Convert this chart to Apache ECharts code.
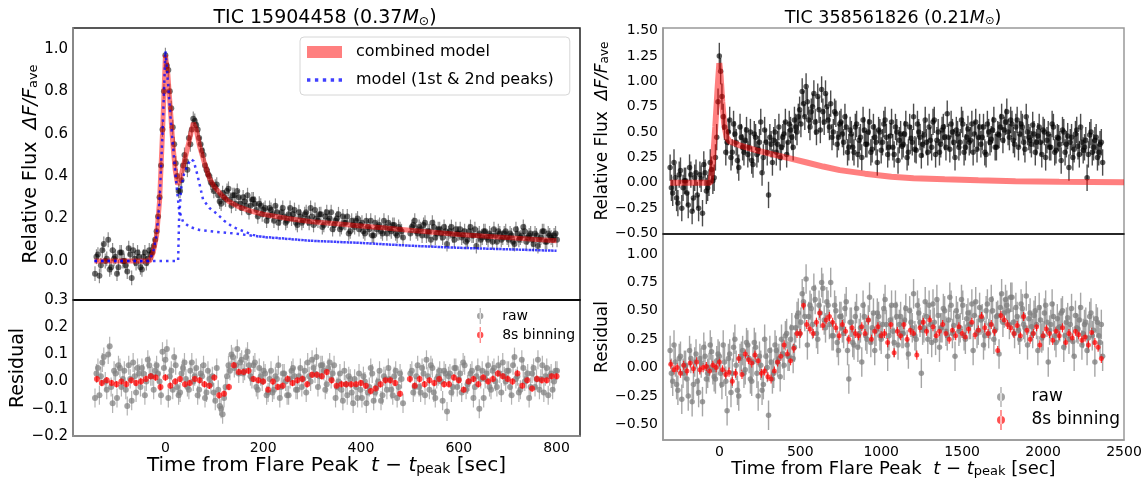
<!DOCTYPE html>
<html>
<head>
<meta charset="utf-8">
<script src="https://cdn.jsdelivr.net/npm/echarts@6/dist/echarts.min.js"></script>
<style>
  html, body { margin: 0; padding: 0; background: #fff; }
  #chart { width: 1146px; height: 481px; }
</style>
</head>
<body>
<div id="chart"></div>
<script>
/* flare light curves: two TESS stars, model + residual panels */

const FONT = 'DejaVu Sans';

// ---- TIC 15904458 (left) ----
// raw samples, two interleaved runs 3 s apart (null = gap)
const leftT0 = -144, leftT0b = -141, leftDt = 6;
const leftFlux = [
  -0.06, 0.03, -0.02, 0.08, 0.01, -0.04, 0.05, 0.02, -0.03, 0.04,
  0.00, -0.05, 0.03, 0.05, -0.01, 0.02, -0.04, 0.04, 0.01, 0.03,
  0.07, 0.14, 0.30, 0.62, 0.97, 0.90, 0.72, 0.55, 0.40, 0.33,
  0.45, 0.47, 0.58, 0.62, 0.66, 0.62, 0.55, 0.50, 0.43, 0.40,
  0.36, 0.35, 0.31, 0.27, 0.30, 0.33, 0.29, 0.31, 0.27, 0.30,
  0.25, 0.28, 0.31, 0.26, 0.29, 0.24, 0.27, 0.22, 0.25, 0.21,
  0.24, 0.19, 0.23, 0.20, 0.25, 0.18, 0.22, 0.20, 0.24, 0.17,
  0.21, 0.19, 0.23, 0.18, 0.21, 0.24, 0.19, 0.22, 0.17, 0.23,
  0.20, 0.15, 0.19, 0.22, 0.16, 0.18, 0.21, 0.14, 0.17, 0.19,
  0.15, 0.18, 0.13, 0.16, 0.19, 0.12, 0.15, 0.17, 0.13, 0.16,
  0.18, 0.14, 0.17, 0.12, 0.15, 0.11, null, null, 0.16, 0.19,
  0.13, 0.15, 0.17, 0.12, 0.14, 0.18, 0.11, 0.15, 0.13, 0.16,
  0.08, 0.14, 0.12, 0.15, 0.13, 0.11, 0.14, 0.10, 0.16, 0.12,
  0.07, 0.13, 0.11, 0.14, 0.10, 0.12, 0.15, 0.09, 0.13, 0.11,
  0.14, 0.10, 0.12, 0.08, 0.13, 0.11, 0.16, 0.09, 0.12, 0.10,
  0.13, 0.07, 0.11, 0.14, 0.09, 0.12, 0.10, 0.13
];
const leftFluxB = [
  0.02, -0.07, 0.05, 0.00, 0.10, -0.03, 0.01, -0.06, 0.04, 0.00,
  -0.02, 0.06, -0.08, 0.01, 0.04, -0.03, 0.02, -0.01, 0.05, 0.04,
  0.10, 0.21, 0.45, 0.80, 0.92, 0.80, 0.63, 0.46, 0.33, 0.38,
  0.50, 0.43, 0.55, 0.67, 0.64, 0.58, 0.52, 0.45, 0.41, 0.37,
  0.33, 0.36, 0.28, 0.32, 0.29, 0.34, 0.26, 0.31, 0.33, 0.27,
  0.30, 0.26, 0.23, 0.29, 0.27, 0.21, 0.26, 0.24, 0.19, 0.25,
  0.22, 0.26, 0.18, 0.23, 0.21, 0.19, 0.25, 0.22, 0.18, 0.23,
  0.18, 0.22, 0.20, 0.25, 0.17, 0.20, 0.22, 0.16, 0.21, 0.19,
  0.23, 0.17, 0.20, 0.15, 0.21, 0.18, 0.13, 0.19, 0.16, 0.20,
  0.17, 0.14, 0.19, 0.15, 0.12, 0.18, 0.16, 0.14, 0.19, 0.13,
  0.15, 0.17, 0.13, 0.16, 0.14, null, null, 0.13, 0.17, 0.14,
  0.16, 0.12, 0.18, 0.14, 0.10, 0.16, 0.13, 0.15, 0.11, 0.14,
  0.13, 0.16, 0.10, 0.13, 0.15, 0.12, 0.09, 0.14, 0.12, 0.15,
  0.12, 0.10, 0.14, 0.11, 0.13, 0.09, 0.12, 0.14, 0.10, 0.13,
  0.11, 0.13, 0.09, 0.15, 0.10, 0.12, 0.14, 0.11, 0.13, 0.08,
  0.12, 0.10, 0.14, 0.09, 0.13, 0.11, 0.12, 0.10
];
const leftResid = [
  -0.06, 0.05, 0.02, 0.09, -0.03, 0.13, -0.08, 0.03, 0.06, -0.02,
  0.04, -0.09, 0.01, 0.07, -0.04, 0.03, 0.05, -0.05, 0.08, 0.02,
  -0.03, 0.06, 0.00, 0.11, 0.08, -0.06, 0.04, 0.09, -0.02, -0.04,
  0.05, 0.01, -0.03, 0.07, 0.02, -0.05, 0.03, 0.06, -0.04, 0.01,
  0.02, -0.07, -0.03, -0.10, -0.06, 0.02, 0.04, 0.09, 0.06, 0.03,
  0.08, 0.04, 0.11, 0.02, 0.06, -0.02, 0.05, 0.00, 0.03, -0.04,
  0.04, -0.03, 0.01, -0.06, 0.03, 0.00, -0.05, 0.04, 0.02, -0.03,
  0.05, 0.01, -0.04, 0.02, 0.08, 0.03, -0.02, 0.06, 0.04, -0.01,
  0.07, 0.03, -0.06, 0.00, -0.03, 0.04, -0.05, 0.01, -0.08, -0.02,
  0.03, -0.06, 0.00, -0.04, 0.05, -0.07, -0.02, 0.04, -0.05, 0.01,
  0.05, -0.03, 0.02, -0.06, 0.03, -0.08, null, null, 0.04, -0.02,
  0.06, -0.04, 0.03, 0.08, -0.03, 0.05, -0.06, 0.02, 0.00, 0.04,
  -0.11, 0.03, -0.02, 0.05, 0.01, -0.04, 0.06, -0.01, 0.03, -0.06,
  0.02, -0.10, 0.04, 0.01, 0.06, -0.03, 0.05, -0.02, 0.03, 0.07,
  0.00, 0.04, -0.05, 0.09, 0.02, -0.03, 0.05, 0.01, -0.06, 0.03,
  -0.02, 0.08, 0.01, -0.04, 0.05, 0.02, -0.03, 0.04
];
const leftResidB = [
  0.03, -0.05, 0.07, 0.00, 0.10, -0.02, 0.04, -0.06, 0.05, 0.01,
  -0.03, 0.06, -0.07, 0.02, 0.05, -0.02, 0.03, 0.00, 0.06, 0.02,
  0.04, 0.03, -0.05, 0.05, 0.12, 0.02, -0.03, 0.06, -0.05, 0.03,
  0.07, -0.02, 0.04, 0.00, 0.05, -0.03, 0.02, -0.06, 0.04, -0.01,
  -0.04, 0.05, -0.09, -0.12, -0.02, 0.06, 0.10, 0.05, 0.12, 0.07,
  0.03, 0.09, 0.06, 0.01, 0.07, -0.03, 0.02, 0.04, -0.05, 0.01,
  -0.04, 0.02, 0.06, -0.02, 0.03, -0.05, 0.01, 0.05, -0.03, 0.02,
  -0.02, 0.04, 0.07, 0.00, 0.05, 0.09, 0.02, 0.06, -0.03, 0.05,
  0.01, 0.06, -0.02, 0.03, -0.07, -0.01, 0.02, -0.04, 0.01, -0.06,
  -0.03, 0.02, -0.08, -0.02, 0.03, -0.04, 0.00, -0.07, 0.02, -0.03,
  0.01, -0.05, 0.04, -0.02, 0.01, null, null, 0.03, -0.04, 0.02,
  -0.02, 0.05, -0.05, 0.02, 0.06, -0.04, 0.01, 0.04, -0.07, 0.03,
  0.02, -0.04, 0.05, -0.02, 0.03, 0.07, -0.03, 0.00, 0.04, -0.02,
  0.05, 0.01, -0.06, 0.03, -0.02, 0.04, 0.00, 0.06, -0.04, 0.02,
  0.04, -0.02, 0.06, 0.01, -0.04, 0.08, 0.00, 0.03, -0.02, 0.05,
  0.01, -0.03, 0.06, 0.02, -0.05, 0.03, 0.00, 0.04
];
// 8 s binned residual, one bin every 10 s from t = -140 s
const leftBinT0 = -140, leftBinDt = 10;
const leftBinResid = [
  0.01, -0.005, 0.005, -0.005, -0.01, 0.0, -0.01, 0.005, -0.005, 0.0,
  0.01, 0.02, 0.015, -0.02, 0.015, -0.015, 0.0, 0.01, -0.01, -0.005,
  0.01, 0.005, -0.01, -0.015, 0.015, -0.05, -0.045, -0.02, 0.06, 0.035,
  0.035, 0.04, 0.01, 0.005, 0.0, -0.03, 0.0, -0.02, -0.015, 0.01,
  -0.005, 0.005, 0.01, -0.01, 0.025, 0.025, 0.02, 0.035, 0.005, -0.015,
  -0.01, -0.01, -0.01, -0.01, -0.005, -0.015, -0.035, -0.025, -0.01, 0.005,
  0.005, -0.005, -0.045, null, 0.01, -0.015, 0.01, -0.01, 0.005, -0.005,
  0.01, -0.01, -0.01, 0.015, 0.005, -0.03, 0.0, 0.01, -0.01, 0.015,
  0.0, 0.01, 0.03, 0.02, 0.01, 0.0, 0.03, -0.015, 0.005, -0.025,
  0.01, 0.005, 0.005, 0.02, 0.02
];
// fitted models
const leftModelT = [-145, -32, -25, -18, -12, -6, 0, 5, 10, 15, 20, 25, 30, 38, 45, 52, 57, 63, 70, 80, 90, 100, 115, 130, 150, 175, 200, 250, 300, 350, 400, 450, 500, 600, 700, 800];
const leftModelF = [0, 0, 0.04, 0.12, 0.28, 0.60, 0.97, 0.88, 0.72, 0.56, 0.43, 0.36, 0.38, 0.46, 0.53, 0.60, 0.65, 0.62, 0.54, 0.46, 0.39, 0.35, 0.31, 0.28, 0.255, 0.235, 0.22, 0.20, 0.185, 0.175, 0.165, 0.155, 0.145, 0.125, 0.11, 0.095];
const leftPeak1T = [-145, -34, -25, -18, -12, -6, 0, 6, 11, 17, 23, 28, 36, 50, 70, 100, 138, 193, 300, 400, 500, 600, 700, 800];
const leftPeak1F = [0, 0, 0.04, 0.12, 0.28, 0.60, 0.99, 0.82, 0.66, 0.50, 0.35, 0.24, 0.185, 0.16, 0.146, 0.138, 0.13, 0.115, 0.095, 0.085, 0.072, 0.062, 0.055, 0.048];
const leftPeak2T = [-145, 26, 28, 32, 38, 45, 52, 58, 65, 77, 90, 104, 120, 138, 160, 179, 200, 300, 400, 500, 600, 700, 800];
const leftPeak2F = [0, 0, 0.2, 0.34, 0.41, 0.45, 0.48, 0.47, 0.41, 0.29, 0.25, 0.225, 0.19, 0.16, 0.14, 0.123, 0.112, 0.095, 0.085, 0.072, 0.062, 0.055, 0.048];

// ---- TIC 358561826 (right) ----
const rightT0 = -304, rightT0b = -296, rightDt = 16;
const rightFlux = [
  0.15, -0.10, 0.05, -0.20, 0.12, -0.05, 0.02, -0.22, 0.08, -0.15,
  0.10, -0.25, 0.04, 0.18, -0.08, 0.00, 0.13, 0.05, 0.45, 1.25,
  0.85, 0.55, 0.40, 0.62, 0.30, 0.48, 0.22, 0.55, 0.35, 0.42,
  0.28, 0.50, 0.18, 0.45, 0.33, 0.60, 0.25, 0.40, -0.12, 0.38,
  0.42, 0.30, 0.55, 0.35, 0.48, 0.28, 0.58, 0.45, 0.62, 0.50,
  0.72, 0.90, 0.65, 0.80, 0.55, 0.75, 0.60, 0.85, 0.52, 0.70,
  0.88, 0.62, 0.78, 0.50, 0.68, 0.45, 0.60, 0.40, 0.55, 0.35,
  0.48, 0.30, 0.58, 0.42, 0.25, 0.52, 0.38, 0.60, 0.33, 0.45,
  0.20, 0.50, 0.40, 0.62, 0.28, 0.46, 0.35, 0.55, 0.22, 0.48,
  0.38, 0.58, 0.30, 0.44, 0.65, 0.32, 0.50, 0.27, 0.47, 0.40,
  0.55, 0.35, 0.62, 0.42, 0.30, 0.52, 0.45, 0.68, 0.33, 0.50,
  0.25, 0.48, 0.40, 0.58, 0.35, 0.53, 0.42, 0.30, 0.60, 0.45,
  0.38, 0.55, 0.28, 0.50, 0.43, 0.62, 0.35, 0.47, 0.65, 0.52,
  0.70, 0.45, 0.58, 0.38, 0.62, 0.48, 0.55, 0.33, 0.50, 0.42,
  0.57, 0.30, 0.46, 0.40, 0.52, 0.25, 0.48, 0.35, 0.55, 0.32,
  0.44, 0.22, 0.50, 0.38, 0.15, 0.45, 0.33, 0.52, 0.28, 0.40,
  0.35, 0.05, 0.47, 0.30, 0.42, 0.25, 0.38, 0.20
];
const rightFluxB = [
  -0.05, 0.20, -0.15, 0.08, -0.25, 0.02, -0.10, 0.15, -0.28, 0.05,
  -0.12, 0.08, -0.30, 0.10, -0.05, 0.20, 0.02, 0.25, 0.80, 1.10,
  0.65, 0.30, 0.50, 0.25, 0.58, 0.40, 0.15, 0.45, 0.30, 0.52,
  0.35, 0.22, 0.48, 0.28, 0.40, 0.10, 0.52, 0.30, 0.45, 0.20,
  0.50, 0.38, 0.25, 0.45, 0.60, 0.40, 0.52, 0.35, 0.55, 0.65,
  0.58, 0.78, 0.95, 0.62, 0.70, 0.88, 0.50, 0.72, 0.92, 0.60,
  0.75, 0.55, 0.45, 0.70, 0.38, 0.58, 0.48, 0.65, 0.30, 0.52,
  0.35, 0.55, 0.28, 0.45, 0.62, 0.38, 0.50, 0.30, 0.55, 0.40,
  0.52, 0.32, 0.58, 0.45, 0.35, 0.60, 0.28, 0.50, 0.42, 0.36,
  0.48, 0.25, 0.55, 0.40, 0.33, 0.58, 0.45, 0.38, 0.62, 0.30,
  0.42, 0.60, 0.28, 0.50, 0.38, 0.55, 0.35, 0.45, 0.58, 0.40,
  0.52, 0.35, 0.62, 0.30, 0.45, 0.40, 0.58, 0.48, 0.33, 0.55,
  0.45, 0.30, 0.58, 0.40, 0.52, 0.35, 0.48, 0.55, 0.42, 0.60,
  0.50, 0.62, 0.42, 0.55, 0.35, 0.58, 0.40, 0.65, 0.45, 0.38,
  0.48, 0.40, 0.55, 0.28, 0.50, 0.42, 0.35, 0.58, 0.30, 0.45,
  0.38, 0.52, 0.30, 0.46, 0.40, 0.25, 0.48, 0.36, 0.55, 0.32,
  0.42, 0.28, 0.50, 0.35, 0.45, 0.30, 0.40
];
const rightResid = [
  0.15, -0.12, 0.05, -0.20, 0.10, -0.05, 0.02, -0.25, 0.08, -0.15,
  0.12, -0.22, 0.04, 0.18, -0.10, 0.00, 0.14, -0.08, 0.06, 0.10,
  -0.15, 0.05, -0.38, 0.12, -0.05, 0.25, -0.20, 0.08, 0.15, -0.02,
  0.20, -0.10, 0.05, 0.18, -0.25, 0.02, -0.15, 0.10, -0.42, 0.05,
  -0.05, 0.15, 0.08, 0.25, 0.02, 0.30, 0.10, 0.35, 0.18, 0.45,
  0.30, 0.65, 0.45, 0.20, 0.55, 0.38, 0.60, 0.25, 0.48, 0.70,
  0.35, 0.55, 0.75, 0.28, 0.50, 0.15, 0.45, 0.30, 0.58, -0.10,
  0.40, 0.20, 0.52, 0.30, 0.05, 0.45, 0.25, 0.62, 0.35, 0.15,
  0.48, 0.28, 0.38, 0.60, 0.10, 0.42, 0.32, 0.55, 0.20, 0.45,
  0.30, 0.52, 0.12, 0.40, 0.65, 0.25, 0.48, -0.05, 0.35, 0.45,
  0.55, 0.22, 0.40, 0.60, 0.18, 0.35, 0.50, 0.28, 0.62, 0.30,
  0.10, 0.45, 0.35, 0.55, 0.25, 0.48, 0.38, 0.15, 0.58, 0.33,
  0.42, 0.20, 0.50, 0.30, 0.60, 0.25, 0.45, 0.12, 0.65, 0.48,
  0.55, 0.38, 0.62, 0.30, 0.45, 0.25, 0.52, 0.35, 0.20, 0.48,
  0.30, 0.50, 0.15, 0.42, 0.28, 0.55, 0.05, 0.38, 0.45, 0.22,
  0.35, 0.48, 0.18, 0.40, 0.25, 0.52, 0.10, 0.35, 0.42, 0.20,
  0.38, 0.15, 0.45, 0.28, 0.05, 0.40, 0.22, 0.10
];
const rightResidB = [
  -0.05, 0.20, -0.15, 0.08, -0.28, 0.02, -0.10, 0.15, -0.30, 0.05,
  -0.12, 0.08, -0.30, 0.10, -0.05, 0.20, -0.02, -0.10, 0.12, -0.05,
  0.20, -0.12, 0.08, -0.22, 0.18, 0.02, -0.25, 0.10, -0.05, 0.22,
  0.08, -0.12, 0.22, -0.05, 0.10, -0.20, 0.25, 0.00, 0.15, -0.10,
  0.20, 0.05, -0.08, 0.12, 0.28, 0.10, 0.25, 0.08, 0.35, 0.48,
  0.40, 0.58, 0.78, 0.45, 0.52, 0.70, 0.30, 0.55, 0.75, 0.42,
  0.58, 0.38, 0.28, 0.55, 0.22, 0.45, 0.35, 0.52, 0.15, 0.40,
  0.22, 0.45, 0.18, 0.35, 0.55, 0.28, 0.42, 0.22, 0.48, 0.32,
  0.45, 0.25, 0.52, 0.38, 0.28, 0.55, 0.22, 0.45, 0.38, 0.30,
  0.42, 0.20, 0.50, 0.35, 0.28, 0.55, 0.40, 0.33, 0.58, 0.25,
  0.38, 0.56, 0.24, 0.46, 0.35, 0.52, 0.32, 0.42, 0.55, 0.37,
  0.50, 0.32, 0.60, 0.28, 0.43, 0.38, 0.56, 0.46, 0.30, 0.53,
  0.43, 0.28, 0.56, 0.38, 0.50, 0.33, 0.46, 0.53, 0.40, 0.60,
  0.50, 0.62, 0.40, 0.53, 0.33, 0.56, 0.38, 0.63, 0.43, 0.36,
  0.46, 0.38, 0.53, 0.26, 0.48, 0.40, 0.33, 0.56, 0.28, 0.43,
  0.36, 0.50, 0.28, 0.44, 0.38, 0.23, 0.46, 0.34, 0.53, 0.30,
  0.40, 0.26, 0.48, 0.33, 0.43, 0.28, 0.38
];
const rightBinT0 = -300, rightBinDt = 20;
const rightBinResid = [
  0.03, -0.02, 0.0, -0.05, 0.02, -0.03, 0.04, -0.01, 0.05, -0.02,
  0.0, 0.01, -0.03, 0.02, 0.0, 0.05, -0.02, -0.06, -0.04, -0.12,
  -0.05, 0.08, -0.06, 0.12, 0.07, 0.04, 0.11, 0.06, -0.05, -0.03,
  -0.08, -0.10, -0.03, 0.05, 0.10, 0.20, 0.12, 0.06, 0.17, 0.30,
  0.30, 0.55, 0.38, 0.34, 0.30, 0.40, 0.48, 0.37, 0.42, 0.45,
  0.40, 0.35, 0.28, 0.38, 0.32, 0.25, 0.35, 0.30, 0.28, 0.36,
  0.30, 0.42, 0.25, 0.32, 0.36, 0.28, 0.30, 0.22, 0.38, 0.13,
  0.32, 0.28, 0.38, 0.25, 0.33, 0.30, 0.11, 0.35, 0.40, 0.32,
  0.42, 0.36, 0.28, 0.32, 0.38, 0.30, 0.25, 0.33, 0.28, 0.36,
  0.30, 0.27, 0.34, 0.40, 0.29, 0.33, 0.45, 0.35, 0.30, 0.38,
  0.32, 0.15, 0.46, 0.42, 0.38, 0.35, 0.30, 0.37, 0.28, 0.45,
  0.33, 0.25, 0.30, 0.36, 0.20, 0.28, 0.34, 0.30, 0.24, 0.32,
  0.28, 0.35, 0.22, 0.30, 0.26, 0.32, 0.29, 0.24, 0.27, 0.20,
  0.31, 0.22, 0.18, 0.08
];
const rightModelT = [-304, -55, -40, -25, -10, 0, 8, 18, 30, 45, 61, 125, 230, 330, 436, 540, 642, 744, 900, 1063, 1200, 1392, 1600, 1830, 2100, 2500];
const rightModelF = [0, 0, 0.2, 0.55, 0.95, 1.18, 1.05, 0.8, 0.58, 0.45, 0.41, 0.37, 0.32, 0.28, 0.24, 0.2, 0.16, 0.125, 0.09, 0.06, 0.045, 0.035, 0.025, 0.015, 0.01, 0.005];

// tick labels
const leftFluxTicks = [0, 0.2, 0.4, 0.6, 0.8, 1.0];
const leftResidTicks = [-0.2, -0.1, 0, 0.1, 0.2, 0.3];
const leftTimeTicks = [0, 200, 400, 600, 800];
const rightFluxTicks = [-0.5, -0.25, 0, 0.25, 0.5, 0.75, 1.0, 1.25, 1.5];
const rightResidTicks = [-0.5, -0.25, 0, 0.25, 0.5, 0.75, 1.0];
const rightTimeTicks = [0, 500, 1000, 1500, 2000, 2500];

// helpers
const sampled = (t0, dt, vals) => vals.map((v, i) => [t0 + i * dt, v]).filter(p => p[1] !== null);
const zip = (xs, ys) => xs.map((x, i) => [x, ys[i]]);
const fmt = d => v => v.toFixed(d).replace('-', '\u2212');

const ERR_ICON = 'path://M4.4,0 h1.2 v20 h-1.2 Z M1,10 a4,4 0 1,0 8,0 a4,4 0 1,0 -8,0 Z';
const DOT_ICON = 'path://M0,0h3v3h-3Z M7,0h3v3h-3Z M14,0h3v3h-3Z M21,0h3v3h-3Z M28,0h3v3h-3Z';

function errBars(name, data, xi, yi, err, color, w) {
  return {
    type: 'custom', name: name, xAxisIndex: xi, yAxisIndex: yi, data: data, z: 1,
    silent: true, clip: true,
    renderItem: function (params, api) {
      const x = api.value(0), y = api.value(1);
      const p1 = api.coord([x, y - err]);
      const p2 = api.coord([x, y + err]);
      return {
        type: 'line',
        shape: { x1: p1[0], y1: p1[1], x2: p2[0], y2: p2[1] },
        style: { stroke: color, lineWidth: w }
      };
    }
  };
}

function dots(name, data, xi, yi, size, color) {
  return {
    type: 'scatter', name: name, xAxisIndex: xi, yAxisIndex: yi, data: data, z: 2,
    symbolSize: size, itemStyle: { color: color }, silent: true, large: false
  };
}

function curve(name, data, xi, yi, color, width, type, z) {
  return {
    type: 'line', name: name, xAxisIndex: xi, yAxisIndex: yi, data: data, z: z,
    symbol: 'none', color: color, silent: true,
    lineStyle: { color: color, width: width, type: type, cap: 'butt' }
  };
}

function xAxisOf(grid, min, max, ticks, showLabels, lineColor) {
  return {
    type: 'value', gridIndex: grid, min: min, max: max,
    axisLine: { show: true, onZero: false, lineStyle: { color: lineColor, width: 1.5 } },
    axisTick: { show: false },
    splitLine: { show: false },
    axisLabel: {
      show: showLabels, customValues: ticks, margin: 5,
      fontFamily: FONT, fontSize: 14, color: '#000',
      formatter: v => String(v)
    }
  };
}

function yAxisOf(grid, min, max, ticks, digits, size) {
  return {
    type: 'value', gridIndex: grid, min: min, max: max,
    axisLine: { show: true, onZero: false, lineStyle: { color: '#999', width: 1.5 } },
    axisTick: { show: false },
    splitLine: { show: false },
    axisLabel: {
      customValues: ticks, margin: 5,
      fontFamily: FONT, fontSize: size, color: '#000',
      formatter: fmt(digits)
    },
    nameLocation: 'middle'
  };
}

const richName = (size, sub) => ({
  fontFamily: FONT, fontSize: size, color: '#000',
  rich: {
    a: { fontFamily: FONT, fontSize: size, color: '#000' },
    i: { fontFamily: FONT, fontSize: size, color: '#000', fontStyle: 'italic' },
    s: { fontFamily: FONT, fontSize: sub, color: '#000', verticalAlign: 'bottom', lineHeight: sub }
  }
});

const richTitle = size => ({
  a: { fontFamily: FONT, fontSize: size, fill: '#000' },
  i: { fontFamily: FONT, fontSize: size, fill: '#000', fontStyle: 'italic' },
  s: { fontFamily: FONT, fontSize: size * 0.65, fill: '#000', verticalAlign: 'bottom', lineHeight: size * 0.6 }
});

const chart = echarts.init(document.getElementById('chart'));

const yLeftMain = yAxisOf(0, -0.184, 1.098, leftFluxTicks, 1, 15);
yLeftMain.name = '{a|Relative Flux  }{i|\u0394F/F}{s|ave}';
yLeftMain.nameGap = 26;
yLeftMain.nameTextStyle = richName(19, 13);

const yLeftRes = yAxisOf(1, -0.2, 0.3, leftResidTicks, 1, 15);
yLeftRes.name = 'Residual';
yLeftRes.nameGap = 43;
yLeftRes.nameTextStyle = richName(19, 13);

const yRightMain = yAxisOf(2, -0.505, 1.526, rightFluxTicks, 2, 14);
yRightMain.name = '{a|Relative Flux  }{i|\u0394F/F}{s|ave}';
yRightMain.nameGap = 43;
yRightMain.nameTextStyle = richName(17, 12);

const yRightRes = yAxisOf(3, -0.638, 1.177, rightResidTicks, 2, 14);
yRightRes.name = 'Residual';
yRightRes.nameGap = 48;
yRightRes.nameTextStyle = richName(17, 12);

const xLeftRes = xAxisOf(1, -189, 848, leftTimeTicks, true, '#999');
xLeftRes.name = '{a|Time from Flare Peak  }{i|t}{a| \u2212 }{i|t}{s|peak}{a| [sec]}';
xLeftRes.nameLocation = 'middle';
xLeftRes.nameGap = 19;
xLeftRes.nameTextStyle = richName(20, 14);

const xRightRes = xAxisOf(3, -348, 2500, rightTimeTicks, true, '#999');
xRightRes.name = '{a|Time from Flare Peak  }{i|t}{a| \u2212 }{i|t}{s|peak}{a| [sec]}';
xRightRes.nameLocation = 'middle';
xRightRes.nameGap = 18;
xRightRes.nameTextStyle = richName(18, 13);

const leftRaw = sampled(leftT0, leftDt, leftFlux).concat(sampled(leftT0b, leftDt, leftFluxB));
const leftRes = sampled(leftT0, leftDt, leftResid).concat(sampled(leftT0b, leftDt, leftResidB));
const leftBin = sampled(leftBinT0, leftBinDt, leftBinResid);
const rightRaw = sampled(rightT0, rightDt, rightFlux).concat(sampled(rightT0b, rightDt, rightFluxB));
const rightRes = sampled(rightT0, rightDt, rightResid).concat(sampled(rightT0b, rightDt, rightResidB));
const rightBin = sampled(rightBinT0, rightBinDt, rightBinResid);

chart.setOption({
  animation: false,
  backgroundColor: '#fff',
  grid: [
    { left: 73, top: 28, width: 507, height: 272, show: true, borderColor: '#222', borderWidth: 1.5 },
    { left: 73, top: 300, width: 507, height: 136, show: true, borderColor: '#222', borderWidth: 1.5 },
    { left: 663, top: 28, width: 461, height: 206, show: true, borderColor: '#999', borderWidth: 1.5 },
    { left: 663, top: 234, width: 461, height: 206, show: true, borderColor: '#999', borderWidth: 1.5 }
  ],
  xAxis: [
    xAxisOf(0, -189, 848, leftTimeTicks, false, '#000'),
    xLeftRes,
    xAxisOf(2, -348, 2500, rightTimeTicks, false, '#000'),
    xRightRes
  ],
  yAxis: [yLeftMain, yLeftRes, yRightMain, yRightRes],
  graphic: [
    { type: 'text', x: 325, y: 18, z: 10,
      style: { text: '{a|TIC 15904458 (0.37}{i|M}{s|\u2299}{a|)}', align: 'center', verticalAlign: 'middle', rich: richTitle(19) } },
    { type: 'text', x: 893, y: 18, z: 10,
      style: { text: '{a|TIC 358561826 (0.21}{i|M}{s|\u2299}{a|)}', align: 'center', verticalAlign: 'middle', rich: richTitle(17.5) } }
  ],
  legend: [
    {
      data: [{ name: 'combined model', icon: 'rect' }, { name: 'model (1st & 2nd peaks)', icon: DOT_ICON }],
      orient: 'vertical', left: 300, top: 37, selectedMode: false,
      padding: [7, 16, 7, 7], itemGap: 12, itemWidth: 35, itemHeight: 12,
      backgroundColor: 'rgba(255,255,255,0.85)', borderColor: '#d6d6d6', borderWidth: 1, borderRadius: 4,
      textStyle: { fontFamily: FONT, fontSize: 16, color: '#000', padding: [0, 0, 0, 9] }
    },
    {
      data: [{ name: 'raw', icon: ERR_ICON }, { name: '8s binning', icon: ERR_ICON }],
      orient: 'vertical', left: 477, top: 308, selectedMode: false, padding: 0,
      itemGap: 3, itemWidth: 8, itemHeight: 16,
      textStyle: { fontFamily: FONT, fontSize: 14, color: '#000', padding: [0, 0, 0, 13] }
    },
    {
      data: [{ name: 'raw', icon: ERR_ICON }, { name: '8s binning', icon: ERR_ICON }],
      orient: 'vertical', left: 997, top: 387, selectedMode: false, padding: 0,
      itemGap: 3, itemWidth: 9, itemHeight: 20,
      textStyle: { fontFamily: FONT, fontSize: 17, color: '#000', padding: [0, 0, 0, 21] }
    }
  ],
  series: [
    // left flux
    errBars('leftErr', leftRaw, 0, 0, 0.035, 'rgba(0,0,0,0.45)', 1.2),
    dots('leftRaw', leftRaw, 0, 0, 6, 'rgba(0,0,0,0.7)'),
    curve('combined model', zip(leftModelT, leftModelF), 0, 0, 'rgba(255,0,0,0.5)', 5, 'solid', 3),
    curve('model (1st & 2nd peaks)', zip(leftPeak1T, leftPeak1F), 0, 0, 'rgba(0,0,255,0.75)', 2.5, [2.5, 4], 4),
    curve('model (1st & 2nd peaks)', zip(leftPeak2T, leftPeak2F), 0, 0, 'rgba(0,0,255,0.75)', 2.5, [2.5, 4], 4),
    // left residual
    errBars('leftResErr', leftRes, 1, 1, 0.035, 'rgba(128,128,128,0.6)', 1.2),
    dots('raw', leftRes, 1, 1, 6, 'rgba(128,128,128,0.9)'),
    errBars('leftBinErr', leftBin, 1, 1, 0.012, 'rgba(255,0,0,0.8)', 1.2),
    dots('8s binning', leftBin, 1, 1, 6, 'rgba(255,0,0,0.85)'),
    // right flux
    errBars('rightErr', rightRaw, 2, 2, 0.13, 'rgba(0,0,0,0.7)', 1.4),
    dots('rightRaw', rightRaw, 2, 2, 5.5, 'rgba(0,0,0,0.8)'),
    curve('flare model', zip(rightModelT, rightModelF), 2, 2, 'rgba(255,0,0,0.5)', 6, 'solid', 3),
    // right residual
    errBars('rightResErr', rightRes, 3, 3, 0.13, 'rgba(128,128,128,0.7)', 1.4),
    dots('raw', rightRes, 3, 3, 5.5, 'rgba(128,128,128,0.95)'),
    errBars('rightBinErr', rightBin, 3, 3, 0.04, 'rgba(255,0,0,0.8)', 1.2),
    dots('8s binning', rightBin, 3, 3, 5, 'rgba(255,0,0,0.85)')
  ]
});
</script>
</body>
</html>
